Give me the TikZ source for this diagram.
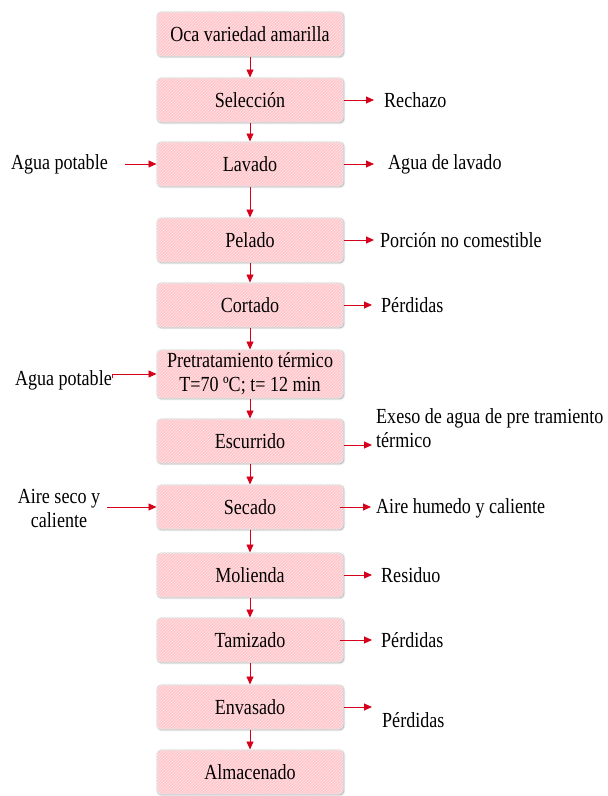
\documentclass[tikz,border=0pt]{standalone}
\usepackage{fontspec}
\setmainfont{Liberation Serif}[FakeStretch=0.84]
\usetikzlibrary{arrows.meta}
\usetikzlibrary{patterns}
\usetikzlibrary{shadows.blur}
\definecolor{rosado}{HTML}{FFC6CA}
\definecolor{rojoflujo}{HTML}{D7001A}
\tikzset{% 
	etapa/.style={draw=gray!25,line width=1pt,rounded corners=4pt,fill=rosado,
		postaction={pattern=north east lines,pattern color=white!55!rosado},
		blur shadow={shadow blur steps=5,shadow xshift=0.8pt,shadow yshift=-0.8pt},
		minimum width=186pt,minimum height=44pt,inner sep=2pt,align=center,
		font=\fontsize{21.5}{24}\selectfont},
	rotulo/.style={inner sep=0pt,align=left,font=\fontsize{21.5}{24}\selectfont},
	flujo/.style={draw=rojoflujo,line width=0.9pt,-{Triangle[length=8pt,width=7pt]}}
}

\begin{document}
\begin{tikzpicture}[x=1pt,y=-1pt]
		\useasboundingbox (0,0) rectangle (608,796);

		% etapas del proceso
		\node [etapa] (oca) at (250,34) {Oca variedad amarilla};
		\node [etapa] (sel) at (250,100) {Selección};
		\node [etapa] (lav) at (250,164) {Lavado};
		\node [etapa] (pel) at (250,240) {Pelado};
		\node [etapa] (cor) at (250,305) {Cortado};
		\node [etapa,minimum height=48pt,inner sep=1pt] (pre) at (250,374) {Pretratamiento térmico\\T=70 ºC; t= 12 min};
		\node [etapa] (esc) at (250,441) {Escurrido};
		\node [etapa] (sec) at (250,507) {Secado};
		\node [etapa] (mol) at (250,575) {Molienda};
		\node [etapa] (tam) at (250,640) {Tamizado};
		\node [etapa] (env) at (250,707) {Envasado};
		\node [etapa] (alm) at (250,772) {Almacenado};

		\draw [flujo] (oca)--(sel);
		\draw [flujo] (sel)--(lav);
		\draw [flujo] (lav)--(pel);
		\draw [flujo] (pel)--(cor);
		\draw [flujo] (cor)--(pre);
		\draw [flujo] (pre)--(esc);
		\draw [flujo] (esc)--(sec);
		\draw [flujo] (sec)--(mol);
		\draw [flujo] (mol)--(tam);
		\draw [flujo] (tam)--(env);
		\draw [flujo] (env)--(alm);

		% entradas
		\node [rotulo,anchor=east] (agua1) at (108,164) {Agua potable};
		\node [rotulo,anchor=east] (agua2) at (112,380) {Agua potable};
		\node [rotulo,align=center] (aire) at (59,508) {Aire seco y\\caliente};

		\draw [flujo,shorten <=17pt] (agua1.east)--(lav.west);
		\draw [flujo,shorten <=2pt] (agua2.east) |- (pre.west);
		\draw [flujo,shorten <=7pt] (aire.east|-sec.west)--(sec.west);

		% salidas
		\node [rotulo,anchor=west] (rec) at (384,100) {Rechazo};
		\node [rotulo,anchor=west] (agl) at (388,164) {Agua de lavado};
		\node [rotulo,anchor=west] (por) at (380,240) {Porción no comestible};
		\node [rotulo,anchor=west] (per1) at (381,305) {Pérdidas};
		\node [rotulo,anchor=west] (exe) at (376,428) {Exeso de agua de pre tramiento\\térmico};
		\node [rotulo,anchor=west] (ahc) at (376,508) {Aire humedo y caliente};
		\node [rotulo,anchor=west] (res) at (381,575) {Residuo};
		\node [rotulo,anchor=west] (per2) at (381,640) {Pérdidas};
		\node [rotulo,anchor=west] (per3) at (382,720) {Pérdidas};

		\draw [flujo,shorten >=10pt] (sel.east)--(sel.east-|rec.west);
		\draw [flujo,shorten >=14pt] (lav.east)--(lav.east-|agl.west);
		\draw [flujo,shorten >=6pt] (pel.east)--(pel.east-|por.west);
		\draw [flujo,shorten >=9pt] (cor.east)--(cor.east-|per1.west);
		\draw [flujo,shorten >=4pt] ([yshift=-4pt]esc.east)--([yshift=-4pt]esc.east-|exe.west);
		\draw [flujo,shorten >=5pt] ([xshift=-4pt]sec.east)--(sec.east-|ahc.west);
		\draw [flujo,shorten >=9pt] (mol.east)--(mol.east-|res.west);
		\draw [flujo,shorten >=9pt] ([xshift=-4pt]tam.east)--(tam.east-|per2.west);
		\draw [flujo,shorten >=10pt] (env.east)--(env.east-|per3.west);

	\end{tikzpicture}
\end{document}
